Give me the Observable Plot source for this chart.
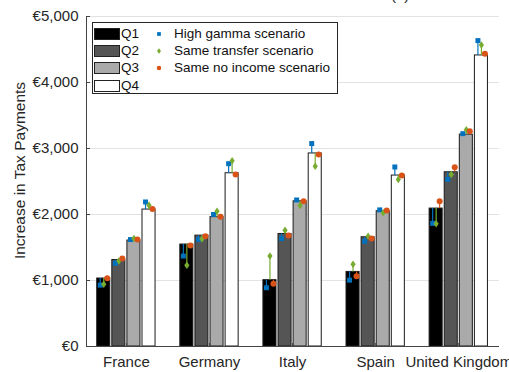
<!DOCTYPE html>
<html>
<head>
<meta charset="utf-8">
<script src="https://cdn.jsdelivr.net/npm/d3@7"></script>
<script src="https://cdn.jsdelivr.net/npm/@observablehq/plot@0.6"></script>
<style>
  html, body { margin: 0; padding: 0; background: #fff; }
  #wrap { position: relative; width: 509px; height: 372px; overflow: hidden;
          font-family: "Liberation Sans", Arial, sans-serif; color: #262626; }
  #panel { position: absolute; left: 391px; top: -13px; font-size: 15px; line-height: 15px; white-space: nowrap; }
  #legend { position: absolute; left: 92px; top: 22px; width: 244px; height: 70px; box-sizing: content-box;
            border: 1px solid #262626; background: #fff; font-size: 13.5px; color: #111; }
  #legend .item { position: absolute; white-space: nowrap; line-height: 14px; }
  #legend .swatch { position: absolute; width: 26px; height: 12px; box-sizing: border-box; border: 1px solid #222; }
  #legend svg { position: absolute; overflow: visible; }
</style>
</head>
<body>
<div id="wrap"><div id="panel">(a)</div></div>
<script>
// Countries along the x axis and income quartiles within each group
const countries = ["France", "Germany", "Italy", "Spain", "United Kingdom"];
const quartiles = ["Q1", "Q2", "Q3", "Q4"];
const quartileFill = ["#000000", "#555555", "#aaaaaa", "#ffffff"];

// Increase in tax payments (€), one row per country, columns Q1..Q4
const baseline     = [[1030, 1310, 1605, 2075], [1545, 1680, 1960, 2625], [1005, 1705, 2200, 2925], [1130, 1655, 2050, 2590], [2090, 2640, 3210, 4410]];
const highGamma    = [[ 930, 1260, 1620, 2190], [1370, 1620, 2000, 2770], [ 890, 1635, 2220, 3075], [1005, 1595, 2070, 2720], [1865, 2530, 3225, 4635]];
const sameTransfer = [[ 945, 1295, 1635, 2140], [1230, 1630, 2050, 2815], [1370, 1760, 2135, 2730], [1245, 1670, 2025, 2530], [1860, 2605, 3285, 4570]];
const sameNoIncome = [[1035, 1335, 1620, 2085], [1530, 1670, 1965, 2605], [ 950, 1680, 2200, 2910], [1065, 1635, 2060, 2590], [2200, 2715, 3260, 4435]];

const scenarioNames  = ["High gamma scenario", "Same transfer scenario", "Same no income scenario"];
const scenarioColors = ["#0072bd", "#77ac30", "#d95319"];

// A diamond a little wider than d3's default one
const wideDiamond = {
  draw(context, size) {
    const h = Math.sqrt(size / 1.4);
    const w = h * 0.7;
    context.moveTo(0, -h);
    context.lineTo(w, 0);
    context.lineTo(0, h);
    context.lineTo(-w, 0);
    context.closePath();
  }
};
const scenarioSymbols = [d3.symbolSquare, wideDiamond, d3.symbolCircle];
const scenarioSizes = [2.8, 2.5, 3.0];

const yTicks = [0, 1000, 2000, 3000, 4000, 5000];
const xDomain = [0.52, 5.49];

// Layout of bars within a country group (in x-axis units)
const barStep = 0.1816, barWidth = 0.157, markerShift = 0.042;
const barCenter = (ci, qi) => ci + 1 + (qi - 1.5) * barStep;

const bars = [];
baseline.forEach((row, ci) => row.forEach((v, qi) => bars.push({ci, qi, quartile: quartiles[qi], value: v})));

const scenarioData = [highGamma, sameTransfer, sameNoIncome];
const points = scenarioData.map((table, s) => {
  const out = [];
  table.forEach((row, ci) => row.forEach((v, qi) =>
    out.push({ci, qi, s, value: v, base: baseline[ci][qi], x: barCenter(ci, qi) + (s - 1) * markerShift})));
  return out;
});

const euro = d => "€" + d3.format(",")(d);

const marks = [
  Plot.ruleY(yTicks.filter(d => d > 0), {stroke: "#e2e2e2", strokeWidth: 1}),
  Plot.rectY(bars, {
    x1: d => barCenter(d.ci, d.qi) - barWidth / 2,
    x2: d => barCenter(d.ci, d.qi) + barWidth / 2,
    y: "value", fill: "quartile", stroke: "#1a1a1a", strokeWidth: 1
  }),
  // stems joining each bar top to the scenario estimates
  ...points.map((pts, s) => Plot.ruleX(pts, {x: "x", y1: "base", y2: "value", stroke: scenarioColors[s], strokeWidth: 1.2})),
  ...points.map((pts, s) => Plot.dot(pts, {x: "x", y: "value", symbol: scenarioSymbols[s], r: scenarioSizes[s], fill: scenarioColors[s], stroke: "none"})),
  Plot.ruleX([xDomain[0]], {stroke: "#444", strokeWidth: 1}),
  Plot.ruleY([0], {stroke: "#444", strokeWidth: 1}),
  Plot.axisY({ticks: yTicks, tickSize: 0, tickPadding: 8, tickFormat: euro, label: null, fill: "#262626"}),
  Plot.axisY({ticks: yTicks, tickSize: 4, dx: 4, fill: "none", stroke: "#444", label: null}),
  Plot.axisX({ticks: [1, 2, 3, 4, 5], tickSize: 0, tickPadding: 10, tickFormat: d => countries[d - 1], label: null, fill: "#262626"}),
  Plot.axisX({ticks: [1, 2, 3, 4, 5], tickSize: 3, dy: -3, fill: "none", stroke: "#444", label: null}),
  Plot.text(["Increase in Tax Payments"], {frameAnchor: "left", textAnchor: "middle", rotate: -90, dx: -66, dy: -11, fontSize: 15.5, fill: "#262626"})
];

const chart = Plot.plot({
  width: 509, height: 372,
  marginLeft: 86, marginRight: 10, marginTop: 16, marginBottom: 26,
  x: {domain: xDomain},
  y: {domain: [0, 5000]},
  color: {domain: quartiles, range: quartileFill},
  style: {fontFamily: "Liberation Sans, Arial, sans-serif", fontSize: "15px", background: "#fff", color: "#262626", overflow: "visible"},
  marks
});

const wrap = document.getElementById("wrap");
wrap.insertBefore(chart, wrap.firstChild);

// Legend box inside the axes
const legend = document.createElement("div");
legend.id = "legend";
const rowY = i => 11 + i * 17.2;
quartiles.forEach((q, i) => {
  const sw = document.createElement("div");
  sw.className = "swatch";
  sw.style.left = "1px";
  sw.style.top = (rowY(i) - 6) + "px";
  sw.style.background = quartileFill[i];
  legend.appendChild(sw);
  const t = document.createElement("div");
  t.className = "item";
  t.style.left = "28px";
  t.style.top = (rowY(i) - 7) + "px";
  t.textContent = q;
  legend.appendChild(t);
});
scenarioNames.forEach((name, i) => {
  const svg = d3.create("svg").attr("width", 10).attr("height", 10)
    .style("left", "61px").style("top", (rowY(i) - 5) + "px");
  const r = scenarioSizes[i] * 0.75;
  svg.append("path")
    .attr("transform", "translate(5,5)")
    .attr("d", d3.symbol(scenarioSymbols[i], r * r * Math.PI)())
    .attr("fill", scenarioColors[i]);
  legend.appendChild(svg.node());
  const t = document.createElement("div");
  t.className = "item";
  t.style.left = "81px";
  t.style.top = (rowY(i) - 7) + "px";
  t.textContent = name;
  legend.appendChild(t);
});
wrap.appendChild(legend);
</script>
</body>
</html>
